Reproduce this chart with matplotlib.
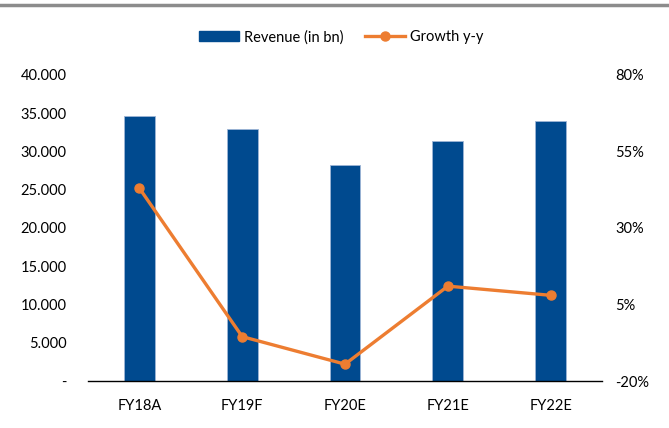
import numpy as np
import matplotlib
matplotlib.use("Agg")
import matplotlib.pyplot as plt
import matplotlib.ticker as mticker
from matplotlib.lines import Line2D

# data
years = ["FY18A", "FY19F", "FY20E", "FY21E", "FY22E"]
revenue = [34600, 32900, 28200, 31400, 34000]   # in bn
growth = [43.0, -5.5, -14.5, 11.0, 8.0]         # y-y in %

left_ticks = [0, 5000, 10000, 15000, 20000, 25000, 30000, 35000, 40000]
right_ticks = [-20, 5, 30, 55, 80]

plt.rcParams['font.family'] = ['Lato', 'DejaVu Sans']
fs = 10.5

fig = plt.figure(figsize=(6.69, 4.28), dpi=100)
ax = fig.add_axes([0.1315, 0.1098, 0.7685, 0.715])
x = np.arange(len(years))

ax.bar(x, revenue, width=0.30, color="#004A8F", edgecolor="#9DB5D6", linewidth=0.6,
       zorder=2, label="Revenue (in bn)")
ax.set_xlim(-0.5, len(years) - 0.5)
ax.set_ylim(0, 40000)
ax.set_yticks(left_ticks)

def thousands(v, pos):
    if v == 0:
        return "-"
    return f"{v/1000:.3f}"

ax.yaxis.set_major_formatter(mticker.FuncFormatter(thousands))
ax.set_xticks(x)
ax.set_xticklabels(years)
ax.tick_params(axis="y", length=0, pad=15.5, labelsize=fs)
ax.tick_params(axis="x", length=0, pad=13, labelsize=fs)
for s in ["top", "left", "right"]:
    ax.spines[s].set_visible(False)
ax.spines["bottom"].set_color("black")
ax.spines["bottom"].set_linewidth(1.0)
ax.spines["bottom"].set_zorder(4)

ax2 = ax.twinx()
ax2.plot(x, growth, color="#ED7D31", linewidth=2.4, marker="o", markersize=6.5,
         zorder=3, label="Growth y-y")
ax2.set_ylim(-20, 80)
ax2.set_yticks(right_ticks)
ax2.yaxis.set_major_formatter(mticker.FuncFormatter(lambda v, p: f"{v:.0f}%"))
ax2.tick_params(axis="y", length=0, pad=9.5, labelsize=fs)
for s in ["top", "left", "right", "bottom"]:
    ax2.spines[s].set_visible(False)

handles = [plt.Rectangle((0, 0), 1, 1, color="#004A8F"),
           Line2D([0], [0], color="#ED7D31", linewidth=2.4, marker="o", markersize=6.5)]
fig.legend(handles, ["Revenue (in bn)", "Growth y-y"], loc="center",
           bbox_to_anchor=(0.51, 0.913), ncol=2, frameon=False, fontsize=fs,
           handlelength=2.7, handletextpad=0.35, columnspacing=1.5)

# gray rule along the top
fig.add_artist(Line2D([0, 1], [0.988, 0.988], color="#8C8C8C", linewidth=2.5,
                      transform=fig.transFigure))

fig.savefig("out.png", dpi=100, facecolor="white")
